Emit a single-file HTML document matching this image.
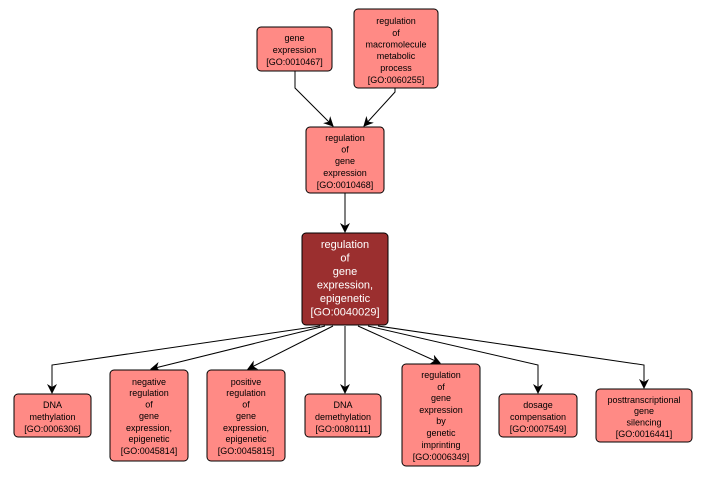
<!DOCTYPE html>
<html><head><meta charset="utf-8"><style>
html,body{margin:0;padding:0;background:#fff;}
svg{display:block;}
text{font-family:"Liberation Sans","DejaVu Sans",sans-serif;font-size:9px;fill:#000;text-anchor:middle;}
.n{fill:#FF8A85;stroke:#000;stroke-width:1;}
.e{stroke:#000;stroke-width:1;fill:none;}
.w{fill:#fff;font-size:11px;}
</style></head><body>
<svg width="708" height="477" viewBox="0 0 708 477" xmlns="http://www.w3.org/2000/svg">
<defs><marker id="a" markerWidth="10" markerHeight="10" refX="9" refY="5" orient="auto" markerUnits="userSpaceOnUse"><path d="M0,0 L10,5 L0,10 L3,5 z" fill="#000"/></marker></defs>
<polyline class="e" points="295,71 295,88 333,126" marker-end="url(#a)"/>
<polyline class="e" points="395,88 395,92 364,126" marker-end="url(#a)"/>
<line class="e" x1="345" y1="193" x2="345" y2="232" marker-end="url(#a)"/>
<polyline class="e" points="320,326 52,365 52,393" marker-end="url(#a)"/>
<line class="e" x1="325" y1="326" x2="151" y2="369" marker-end="url(#a)"/>
<line class="e" x1="333" y1="326" x2="248" y2="369" marker-end="url(#a)"/>
<line class="e" x1="345" y1="326" x2="345" y2="393" marker-end="url(#a)"/>
<line class="e" x1="358" y1="326" x2="440" y2="363" marker-end="url(#a)"/>
<polyline class="e" points="368,326 538,365 538,393" marker-end="url(#a)"/>
<polyline class="e" points="378,326 644,365 644,388" marker-end="url(#a)"/>
<rect class="n" x="257" y="27" width="75" height="44" rx="4"/>
<text x="294.5" y="41">gene</text><text x="294.5" y="53">expression</text><text x="294.5" y="65">[GO:0010467]</text>
<rect class="n" x="354" y="9" width="84" height="79" rx="4"/>
<text x="396" y="24">regulation</text><text x="396" y="36">of</text><text x="396" y="47.5">macromolecule</text><text x="396" y="59">metabolic</text><text x="396" y="71">process</text><text x="396" y="83">[GO:0060255]</text>
<rect class="n" x="306" y="127" width="78" height="66" rx="4"/>
<text x="345" y="141">regulation</text><text x="345" y="152.5">of</text><text x="345" y="164">gene</text><text x="345" y="176">expression</text><text x="345" y="188">[GO:0010468]</text>
<rect x="302" y="233" width="86" height="92" rx="4" fill="#9B2F2F" stroke="#000"/>
<text class="w" x="345" y="248">regulation</text><text class="w" x="345" y="261.5">of</text><text class="w" x="345" y="275">gene</text><text class="w" x="345" y="288.5">expression,</text><text class="w" x="345" y="302">epigenetic</text><text class="w" x="345" y="315.5">[GO:0040029]</text>
<rect class="n" x="14" y="394" width="77" height="43" rx="4"/>
<text x="52.5" y="408">DNA</text><text x="52.5" y="420">methylation</text><text x="52.5" y="432">[GO:0006306]</text>
<rect class="n" x="110" y="370" width="78" height="91" rx="4"/>
<text x="149" y="385">negative</text><text x="149" y="396">regulation</text><text x="149" y="407.5">of</text><text x="149" y="419">gene</text><text x="149" y="431">expression,</text><text x="149" y="442">epigenetic</text><text x="149" y="454">[GO:0045814]</text>
<rect class="n" x="207" y="370" width="78" height="91" rx="4"/>
<text x="246" y="385">positive</text><text x="246" y="396">regulation</text><text x="246" y="407.5">of</text><text x="246" y="419">gene</text><text x="246" y="431">expression,</text><text x="246" y="442">epigenetic</text><text x="246" y="454">[GO:0045815]</text>
<rect class="n" x="305" y="394" width="76" height="43" rx="4"/>
<text x="343" y="408">DNA</text><text x="343" y="420">demethylation</text><text x="343" y="432">[GO:0080111]</text>
<rect class="n" x="402" y="364" width="78" height="102" rx="4"/>
<text x="441" y="378">regulation</text><text x="441" y="390">of</text><text x="441" y="401">gene</text><text x="441" y="413">expression</text><text x="441" y="424">by</text><text x="441" y="436">genetic</text><text x="441" y="448">imprinting</text><text x="441" y="460">[GO:0006349]</text>
<rect class="n" x="499" y="394" width="78" height="43" rx="4"/>
<text x="538" y="408">dosage</text><text x="538" y="420">compensation</text><text x="538" y="432">[GO:0007549]</text>
<rect class="n" x="596" y="389" width="96" height="53" rx="4"/>
<text x="644" y="403">posttranscriptional</text><text x="644" y="414">gene</text><text x="644" y="425.5">silencing</text><text x="644" y="437">[GO:0016441]</text>
</svg>
</body></html>
